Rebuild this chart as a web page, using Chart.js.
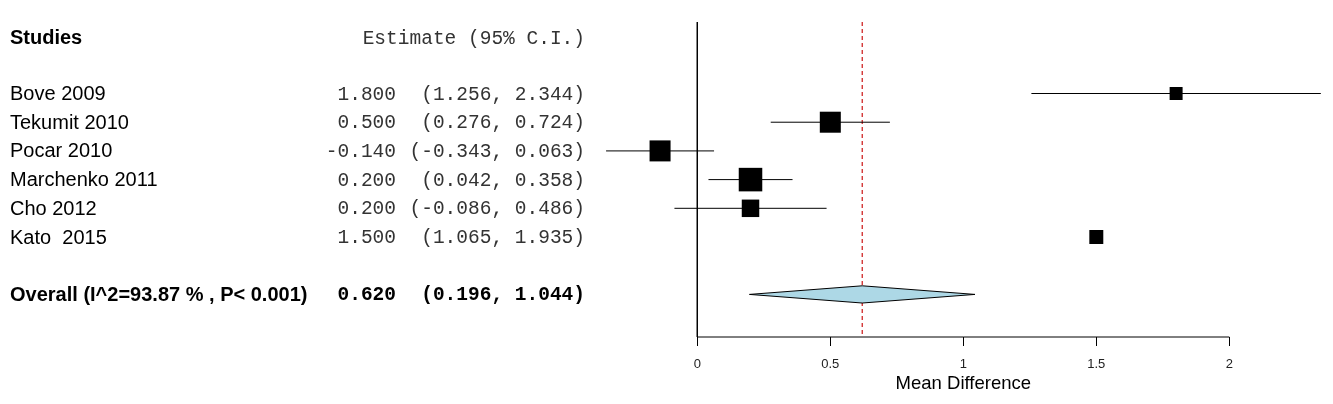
<!DOCTYPE html>
<html>
<head>
<meta charset="utf-8">
<script src="https://cdn.jsdelivr.net/npm/chart.js@4.4.1/dist/chart.umd.min.js"></script>
<style>
    body { margin: 0; background: #fff; }
    canvas { display: block; }
</style>
</head>
<body>
<canvas id="forestChart" width="1333" height="404"></canvas>
<script>
const studies = [
    "Bove 2009",
    "Tekumit 2010",
    "Pocar 2010",
    "Marchenko 2011",
    "Cho 2012",
    "Kato  2015",
];
const estimates = [1.8, 0.5, -0.14, 0.2, 0.2, 1.5];
const lowerCI = [1.256, 0.276, -0.343, 0.042, -0.086, 1.065];
const upperCI = [2.344, 0.724, 0.063, 0.358, 0.486, 1.935];
// study weights (%)
const weights = [11.8, 19.1, 19.1, 21.4, 15.9, 12.7];

const pooledEstimate = 0.62;
const pooledLower = 0.196;
const pooledUpper = 1.044;
const i2 = 93.87;
const pText = "< 0.001";

const xTicks = [0, 0.5, 1, 1.5, 2];
const xTitle = "Mean Difference";

// the source figure draws no whisker for this study
const hiddenWhiskers = ["Kato  2015"];

const overallRow = studies.length + 1;
const Y_MIN = -3.258;
const Y_MAX = 8.484;

const blackLine = {
    type: "line",
    borderColor: "#000000",
    borderWidth: 1,
    pointRadius: 0,
    fill: false,
    tension: 0,
};

const whiskers = studies
    .map((name, i) => ({
        ...blackLine,
        label: name,
        data: [
            { x: lowerCI[i], y: i },
            { x: upperCI[i], y: i },
        ],
    }))
    .filter((d) => !hiddenWhiskers.includes(d.label));

const squares = {
    type: "line",
    label: "studies",
    showLine: false,
    data: estimates.map((v, i) => ({ x: v, y: i })),
    pointStyle: "rect",
    pointRadius: weights.map((w) => (w * 1.1) / Math.SQRT2),
    pointBackgroundColor: "#000000",
    pointBorderWidth: 0,
};

const diamondTop = {
    ...blackLine,
    label: "pooled",
    data: [
        { x: pooledLower, y: overallRow },
        { x: pooledEstimate, y: overallRow - 0.3 },
        { x: pooledUpper, y: overallRow },
    ],
};

const diamondBottom = {
    ...blackLine,
    label: "pooled2",
    data: [
        { x: pooledLower, y: overallRow },
        { x: pooledEstimate, y: overallRow + 0.3 },
        { x: pooledUpper, y: overallRow },
    ],
    fill: "-1",
    backgroundColor: "#ADD8E6",
};

const zeroLine = {
    ...blackLine,
    label: "zero",
    clip: false,
    data: [
        { x: 0, y: -2.49 },
        { x: 0, y: Y_MAX },
    ],
};

const axisLine = {
    ...blackLine,
    label: "axis",
    clip: false,
    data: [
        { x: xTicks[0], y: Y_MAX },
        { x: xTicks[xTicks.length - 1], y: Y_MAX },
    ],
};

const pooledLine = {
    ...blackLine,
    label: "pooled line",
    borderColor: "#cc1414",
    borderWidth: 1.2,
    borderDash: [4, 3],
    data: [
        { x: pooledEstimate, y: -2.49 },
        { x: pooledEstimate, y: Y_MAX },
    ],
};

const textPlugin = {
    id: "forestText",
    afterDraw: (chart) => {
        const {
            ctx,
            scales: { x, y },
        } = chart;
        const rowY = (i) => y.getPixelForValue(i) + 1;
        const sans = "'Liberation Sans', Arial, sans-serif";
        const mono = "'Liberation Mono', 'Courier New', monospace";

        ctx.save();
        ctx.textBaseline = "middle";

        // header
        ctx.fillStyle = "#000";
        ctx.textAlign = "left";
        ctx.font = "bold 20px " + sans;
        ctx.fillText("Studies", 10, rowY(-1.95));
        ctx.textAlign = "right";
        ctx.font = "19.5px " + mono;
        ctx.fillStyle = "#333";
        ctx.fillText("Estimate (95% C.I.)", 585, rowY(-1.95));

        studies.forEach((name, i) => {
            ctx.textAlign = "left";
            ctx.font = "20px " + sans;
            ctx.fillStyle = "#000";
            ctx.fillText(name, 10, rowY(i));
            ctx.textAlign = "right";
            ctx.font = "19.5px " + mono;
            ctx.fillStyle = "#333";
            ctx.fillText(estimates[i].toFixed(3), 396, rowY(i));
            ctx.fillText(
                `(${lowerCI[i].toFixed(3)}, ${upperCI[i].toFixed(3)})`,
                585,
                rowY(i)
            );
        });

        ctx.fillStyle = "#000";
        ctx.textAlign = "left";
        ctx.font = "bold 20px " + sans;
        ctx.fillText(
            `Overall (I^2=${i2.toFixed(2)} % , P${pText})`,
            10,
            rowY(overallRow)
        );
        ctx.textAlign = "right";
        ctx.font = "bold 19.5px " + mono;
        ctx.fillText(pooledEstimate.toFixed(3), 396, rowY(overallRow));
        ctx.fillText(
            `(${pooledLower.toFixed(3)}, ${pooledUpper.toFixed(3)})`,
            585,
            rowY(overallRow)
        );

        // axis title, centred under the middle tick
        ctx.textAlign = "center";
        ctx.font = "18.5px " + sans;
        ctx.fillText(
            xTitle,
            x.getPixelForValue(xTicks[Math.floor(xTicks.length / 2)]),
            384
        );
        ctx.restore();
    },
};

const ctx = document.getElementById("forestChart").getContext("2d");
const forestChart = new Chart(ctx, {
    type: "line",
    data: {
        datasets: [
            ...whiskers,
            diamondTop,
            diamondBottom,
            zeroLine,
            pooledLine,
            axisLine,
            squares,
        ],
    },
    options: {
        responsive: false,
        animation: false,
        events: [],
        layout: { padding: 0, autoPadding: false },
        scales: {
            x: {
                type: "linear",
                min: -2.6214,
                max: 2.3898,
                afterBuildTicks: (axis) => {
                    axis.ticks = xTicks.map((v) => ({ value: v }));
                },
                afterFit: (axis) => {
                    axis.height = 67;
                },
                border: { display: false },
                grid: {
                    drawOnChartArea: false,
                    drawTicks: true,
                    tickLength: 9,
                    color: "#000000",
                    lineWidth: 1,
                },
                ticks: {
                    autoSkip: false,
                    maxRotation: 0,
                    padding: 11,
                    color: "#222",
                    font: { family: "'Liberation Sans', Arial", size: 13 },
                    callback: (v) => String(v),
                },
            },
            y: {
                type: "linear",
                display: false,
                reverse: true,
                min: Y_MIN,
                max: Y_MAX,
            },
        },
        plugins: {
            legend: { display: false },
            tooltip: { enabled: false },
        },
    },
    plugins: [textPlugin],
});
</script>
</body>
</html>
